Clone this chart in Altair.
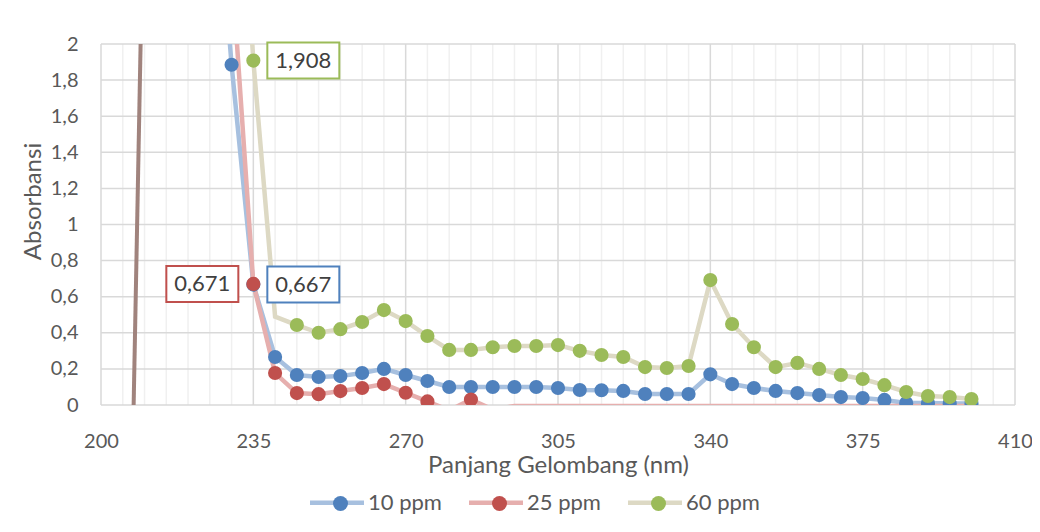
import altair as alt
import pandas as pd

# ---------------- data ----------------
series_names = ["10 ppm", "25 ppm", "60 ppm"]

x_10 = [225, 230, 235, 240, 245, 250, 255, 260, 265, 270, 275, 280, 285, 290, 295, 300, 305, 310,
        315, 320, 325, 330, 335, 340, 345, 350, 355, 360, 365, 370, 375, 380, 385, 390, 395, 400]
y_10 = [3.40, 1.885, 0.667, 0.266, 0.166, 0.155, 0.160, 0.177, 0.200, 0.166, 0.133, 0.100, 0.100,
        0.100, 0.100, 0.100, 0.094, 0.083, 0.082, 0.078, 0.061, 0.061, 0.061, 0.170, 0.116, 0.094,
        0.078, 0.066, 0.055, 0.044, 0.039, 0.028, 0.011, 0.011, 0.008, 0.008]

x_25 = [230, 235, 240, 245, 250, 255, 260, 265, 270, 275, 280, 285, 290, 295, 300, 305, 310,
        315, 320, 325, 330, 335, 340, 345, 350, 355, 360, 365, 370, 375, 380, 385, 390, 395, 400]
y_25 = [2.44, 0.671, 0.177, 0.066, 0.060, 0.077, 0.094, 0.116, 0.068, 0.020, -0.030, 0.030, -0.025,
        -0.006, -0.006, -0.006, -0.006, -0.006, -0.006, -0.006, -0.006, -0.006, -0.006, -0.006,
        -0.006, -0.006, -0.006, -0.006, -0.006, -0.006, -0.006, -0.006, -0.006, -0.006, -0.006]

x_60 = [230, 235, 240, 245, 250, 255, 260, 265, 270, 275, 280, 285, 290, 295, 300, 305, 310,
        315, 320, 325, 330, 335, 340, 345, 350, 355, 360, 365, 370, 375, 380, 385, 390, 395, 400]
y_60 = [3.80, 1.908, 0.49, 0.443, 0.400, 0.420, 0.460, 0.526, 0.465, 0.382, 0.305, 0.305, 0.320,
        0.327, 0.327, 0.332, 0.300, 0.277, 0.266, 0.210, 0.205, 0.216, 0.692, 0.449, 0.320, 0.210,
        0.233, 0.200, 0.166, 0.144, 0.110, 0.072, 0.050, 0.044, 0.033]
hidden_markers_60 = [240]

# extra (unnamed) series drawn in brown, not in the legend
x_extra = [207.34, 209.5]
y_extra = [-0.2, 2.5]

label_series = ["60 ppm", "25 ppm", "10 ppm"]
label_x = [235, 235, 235]
label_y = [1.908, 0.671, 0.667]
label_text = ["1,908", "0,671", "0,667"]
label_side = ["right", "left", "right"]

x_ticks = [200, 235, 270, 305, 340, 375, 410]
x_minor = [205, 210, 215, 220, 225, 230, 240, 245, 250, 255, 260, 265, 275, 280, 285, 290, 295, 300,
           310, 315, 320, 325, 330, 335, 345, 350, 355, 360, 365, 370, 380, 385, 390, 395, 400, 405]
y_ticks = [0, 0.2, 0.4, 0.6, 0.8, 1, 1.2, 1.4, 1.6, 1.8, 2]

# ---------------- styling ----------------
FONT = "Lato"
TXT = "#595959"
marker_colors = ["#4F81BD", "#C0504D", "#9BBB59"]
line_colors = ["#A7C0DF", "#E6AFAE", "#DDD9C4"]
label_border = {"10 ppm": "#4F81BD", "25 ppm": "#C0504D", "60 ppm": "#9BBB59"}

rows = []
for name, xs, ys, hidden in [("10 ppm", x_10, y_10, []),
                             ("25 ppm", x_25, y_25, []),
                             ("60 ppm", x_60, y_60, hidden_markers_60)]:
    for xv, yv in zip(xs, ys):
        rows.append({"series": name, "series_b": name, "x": xv, "y": yv,
                     "marker": xv not in hidden})
df = pd.DataFrame(rows)

xscale = alt.Scale(domain=[200, 410], nice=False, zero=False)
yscale = alt.Scale(domain=[0, 2], nice=False, zero=False)

x_axis = alt.Axis(values=x_ticks, title="Panjang Gelombang (nm)", grid=False,
                  domain=False, ticks=False, tickSize=0, labelFlush=False,
                  labelOverlap=False, labelPadding=26, labelFontSize=20,
                  titleFontSize=24, titlePadding=2, titleFontWeight="normal",
                  labelColor=TXT, titleColor=TXT)
y_axis = alt.Axis(values=y_ticks, title="Absorbansi", grid=False, domain=False,
                  ticks=False, tickSize=0, labelPadding=23, labelFontSize=20,
                  labelExpr="replace(format(datum.value, '~g'), '.', ',')",
                  titleFontSize=24, titlePadding=5, titleFontWeight="normal",
                  titleY=157, labelColor=TXT, titleColor=TXT)


def X(field="x:Q"):
    return alt.X(field, scale=xscale, axis=x_axis)


def Y(field="y:Q"):
    return alt.Y(field, scale=yscale, axis=y_axis)


minor_grid = alt.Chart(pd.DataFrame({"x": x_minor})).mark_rule(
    color="#F0F0F0", strokeWidth=1.5).encode(x=X())
major_vgrid = alt.Chart(pd.DataFrame({"x": x_ticks})).mark_rule(
    color="#D9D9D9", strokeWidth=1.5).encode(x=X())
major_hgrid = alt.Chart(pd.DataFrame({"y": y_ticks})).mark_rule(
    color="#D9D9D9", strokeWidth=1.5).encode(y=Y())

extra_line = alt.Chart(pd.DataFrame({"x": x_extra, "y": y_extra})).mark_line(
    color="#A0837D", strokeWidth=4, clip=True).encode(x=X(), y=Y())

lines = alt.Chart(df).mark_line(strokeWidth=4.5, clip=True).encode(
    x=X(), y=Y(),
    stroke=alt.Stroke("series:N", scale=alt.Scale(domain=series_names, range=line_colors),
                      legend=alt.Legend(orient="none", legendX=206.5, legendY=429,
                                        direction="horizontal", title=None,
                                        symbolType="stroke", symbolSize=2916,
                                        symbolStrokeWidth=4.5, labelOffset=1.5,
                                        columnPadding=17, labelFontSize=22,
                                        labelColor=TXT, labelFont=FONT)),
    order=alt.Order("x:Q"),
)

points = alt.Chart(df).transform_filter("datum.marker && datum.y >= 0").mark_circle(
    size=200, opacity=1, clip=True).encode(
    x=X(), y=Y(),
    fill=alt.Fill("series_b:N", scale=alt.Scale(range=marker_colors),
                  legend=alt.Legend(orient="none", legendX=228.5, legendY=448.5,
                                    direction="horizontal", title=None,
                                    symbolType="circle", symbolSize=225,
                                    symbolStrokeWidth=0, labelOffset=23.5,
                                    columnPadding=39, labelFontSize=22,
                                    labelOpacity=0, labelFont=FONT)),
)

lab_df = pd.DataFrame({"series": label_series, "x": label_x, "y": label_y,
                       "text": label_text, "side": label_side})
label_layers = []
for s, t, side in zip(label_series, label_text, label_side):
    base = alt.Chart(lab_df).transform_filter(alt.datum.text == t)
    if side == "right":
        xo, x2o, dx = 14, 86, 50
    else:
        xo, x2o, dx = -87, -15, -51
    box = base.mark_rect(fill="white", stroke=label_border[s], strokeWidth=2,
                         xOffset=xo, x2Offset=x2o, yOffset=-18, y2Offset=18).encode(
        x=X(), x2="x:Q", y=Y(), y2="y:Q")
    txt = base.mark_text(fontSize=22, color="#404040", font=FONT, dx=dx,
                         align="center", baseline="middle").encode(
        x=X(), y=Y(), text="text:N")
    label_layers += [box, txt]

chart = alt.layer(minor_grid, major_vgrid, major_hgrid, extra_line, lines, points,
                  *label_layers).properties(
    width=914, height=361,
    autosize=alt.AutoSizeParams(type="none"),
    padding={"left": 93, "top": 36, "right": 17, "bottom": 112},
).configure_view(stroke=None).configure_axis(labelFont=FONT, titleFont=FONT).configure_legend(
    labelFont=FONT)

chart.save("out.html", embed_options={"renderer": "svg", "actions": False})
